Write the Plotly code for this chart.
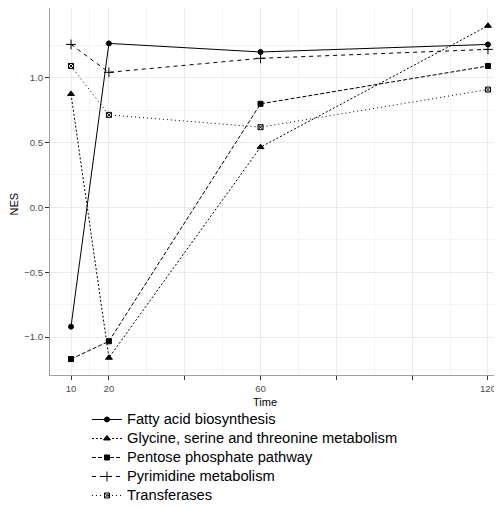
import plotly.graph_objects as go

# ---- data ----
time = [10, 20, 60, 120]
fatty_acid = [-0.92, 1.264, 1.198, 1.256]
glycine = [0.874, -1.16, 0.464, 1.40]
pentose = [-1.17, -1.033, 0.798, 1.09]
pyrimidine = [1.256, 1.041, 1.149, 1.218]
transferases = [1.09, 0.713, 0.618, 0.908]

series_names = [
    "Fatty acid biosynthesis",
    "Glycine, serine and threonine metabolism",
    "Pentose phosphate pathway",
    "Pyrimidine metabolism",
    "Transferases",
]
x_tickvals = [10, 20, 40, 60, 80, 100, 120]
x_ticktext = ["10", "20", "", "60", "", "", "120"]
x_minor = [15, 30, 50, 70, 90, 110]
y_tickvals = [-1.0, -0.5, 0.0, 0.5, 1.0]
y_ticktext = ["\u22121.0", "\u22120.5", "0.0", "0.5", "1.0"]
y_minor = [-1.25, -0.75, -0.25, 0.25, 0.75, 1.25]

# ---- styles ----
series_values = [fatty_acid, glycine, pentose, pyrimidine, transferases]
dashes = ["solid", "2px,2px", "4px,2px", "4px,4px", "1px,3px"]
symbols = ["circle", "triangle-up", "square", "cross-thin-open", "square-x-open"]
sizes = [5, 6, 5, 7, 5]

FONT = "Liberation Sans, Arial, sans-serif"
LEGEND_TEXT = '<span style="font-size:14.7px">{}</span>'

fig = go.Figure()
for name, vals, dash, sym, sz in zip(series_names, series_values, dashes, symbols, sizes):
    fig.add_trace(go.Scatter(
        x=time, y=vals, name=LEGEND_TEXT.format(name), mode="lines+markers",
        line=dict(color="black", width=1, dash=dash),
        marker=dict(symbol=sym, size=sz, color="black",
                    line=dict(color="black", width=1)),
    ))

axis_common = dict(
    ticks="outside", ticklen=4, tickwidth=1, tickcolor="#333333",
    showline=True, linecolor="#A0A0A0", linewidth=1,
    showgrid=True, gridcolor="#EBEBEB", gridwidth=1,
    zeroline=False,
    tickfont=dict(family=FONT, size=9.6, color="#4D4D4D"),
)

# The page body has an 8px default margin, so the figure is 8px smaller
# and its plot area sits 8px up/left of the reference's pixel positions.
fig.update_layout(
    width=494, height=499, autosize=False,
    margin=dict(l=42, r=0, t=0, b=132, autoexpand=False),
    plot_bgcolor="white", paper_bgcolor="white",
    font=dict(family=FONT, color="black"),
    xaxis=dict(range=[4.46, 123.7], tickmode="array", tickvals=x_tickvals,
               ticktext=x_ticktext, mirror=True,
               minor=dict(tickvals=x_minor, showgrid=True, gridcolor="#F5F5F5",
                          gridwidth=0.6, ticks=""),
               **axis_common),
    yaxis=dict(range=[-1.293, 1.537], tickmode="array", tickvals=y_tickvals,
               ticktext=y_ticktext,
               minor=dict(tickvals=y_minor, showgrid=True, gridcolor="#F5F5F5",
                          gridwidth=0.6, ticks=""),
               **axis_common),
    showlegend=True,
    legend=dict(x=0.0818, y=-0.0817, xanchor="left", yanchor="top",
                font=dict(family=FONT, size=12.3, color="black"),
                bgcolor="rgba(0,0,0,0)", tracegroupgap=0, itemwidth=30),
    annotations=[
        dict(text="Time", x=(265 - 50) / 452, y=(375 - 402) / 367,
             xref="paper", yref="paper", showarrow=False,
             font=dict(family=FONT, size=11, color="black"),
             xanchor="center", yanchor="middle"),
        dict(text="NES", x=(13.5 - 50) / 452, y=(375 - 204) / 367,
             xref="paper", yref="paper", showarrow=False, textangle=-90,
             font=dict(family=FONT, size=11, color="black"),
             xanchor="center", yanchor="middle"),
    ],
)

fig.write_html("out.html")
